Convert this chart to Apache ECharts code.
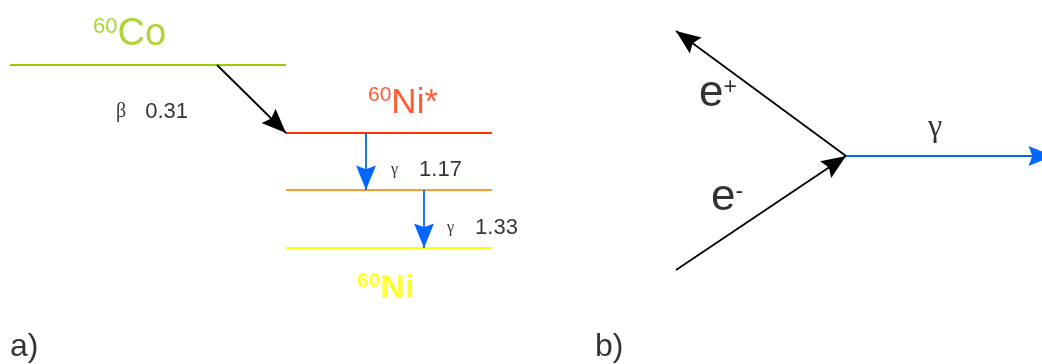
<!DOCTYPE html>
<html>
<head>
<meta charset="utf-8">
<script src="https://cdn.jsdelivr.net/npm/echarts@6/dist/echarts.min.js"></script>
<style>html,body{margin:0;padding:0;background:#fff;}#c{width:1042px;height:364px;}</style>
</head>
<body>
<div id="c"></div>
<script>
// ---- diagram data (diagram units on a 1042 x 364 plane) ----
const levelNames = ['60Co', '60Ni*', '60Ni* 1.33', '60Ni'];
const levelY = [65, 133, 190, 248];
const levelX0 = [10, 286, 286, 286];
const levelX1 = [286, 492, 492, 492];

const transitionSymbols = ['β', 'γ', 'γ'];
const transitionEnergies = [0.31, 1.17, 1.33];
const transitionFrom = [[217, 65], [366, 133], [424, 190]];
const transitionTo = [[286, 133], [366, 190], [424, 248]];

const annihilationParticles = ['e+', 'e-', 'γ'];
const annihilationFrom = [[846, 156], [676, 270], [846, 156]];
const annihilationTo = [[676, 31], [846, 156], [1053, 156]];

const panelLabels = ['a)', 'b)'];
const panelAnchors = [[10, 347], [595, 347]];

const levelLabelAnchors = [[93, 35], [368, 103], [357, 288]];
const transitionLabelAnchors = [[116, 112], [391, 170], [447, 228]];
const particleLabelAnchors = [[699, 96], [711, 200], [928, 128]];

// ---- styles ----
const levelColors = ['#99cc00', '#ff3300', '#ff9933', '#ffff00'];
const transitionColors = ['#000000', '#0066ff', '#0066ff'];
const particleColors = ['#000000', '#000000', '#0066ff'];
const SANS = 'Liberation Sans, Arial, sans-serif';
const SERIF = 'Liberation Serif, Times New Roman, serif';
// arrow head drawn in the back half of a square box so the tip sits on the end point
const ARROW = 'path://M-17,0L-16.99,0L-17,0.01Z M17,34L16.99,34L17,33.99Z M0,17L6.5,33L0,30.5L-6.5,33Z';

const chart = echarts.init(document.getElementById('c'));

const levelLines = levelY.map((y, i) => ({
  coords: [[levelX0[i], y], [levelX1[i], y]],
  lineStyle: { color: levelColors[i], width: 2, opacity: 1 }
}));
const transitionLines = transitionFrom.map((p, i) => ({
  coords: [p, transitionTo[i]],
  lineStyle: { color: transitionColors[i], width: 1.8, opacity: 1 }
}));
const particleLines = annihilationFrom.map((p, i) => ({
  coords: [p, annihilationTo[i]],
  lineStyle: { color: particleColors[i], width: i === 2 ? 2.2 : 1.8, opacity: 1 }
}));

function labelPoint(pos, formatter, rich) {
  return {
    value: pos,
    label: {
      show: true, position: 'right', distance: 0, align: 'left', verticalAlign: 'middle',
      color: '#000', textBorderWidth: 0, formatter: formatter, rich: rich || {}
    }
  };
}

const levelRich = [
  { s: { fontFamily: SANS, fontSize: 22, color: levelColors[0], lineHeight: 22, verticalAlign: 'top' },
    b: { fontFamily: SANS, fontSize: 38, color: levelColors[0], lineHeight: 38, verticalAlign: 'bottom' } },
  { s: { fontFamily: SANS, fontSize: 21, color: levelColors[1], lineHeight: 21, verticalAlign: 'top' },
    b: { fontFamily: SANS, fontSize: 35, color: levelColors[1], lineHeight: 36, verticalAlign: 'bottom' } },
  { s: { fontFamily: SANS, fontSize: 21, fontWeight: 'bold', color: levelColors[3], lineHeight: 21, verticalAlign: 'top' },
    b: { fontFamily: SANS, fontSize: 34, fontWeight: 'bold', color: levelColors[3], lineHeight: 35, verticalAlign: 'bottom' } }
];
const levelTextIdx = [0, 1, 3];
const levelTexts = levelTextIdx.map((li, k) => {
  const name = levelNames[li];
  return labelPoint(levelLabelAnchors[k], '{s|' + name.slice(0, 2) + '}{b|' + name.slice(2) + '}', levelRich[k]);
});

const transitionTexts = transitionSymbols.map((sym, i) => labelPoint(
  transitionLabelAnchors[i],
  '{g|' + sym + '}{n|' + transitionEnergies[i].toFixed(2) + '}',
  {
    g: { fontFamily: SERIF, fontSize: i === 0 ? 20 : 16, color: '#000', padding: [0, i === 0 ? 19 : 21, 0, 0] },
    n: { fontFamily: SANS, fontSize: 22, color: '#000' }
  }
));

const particleTexts = annihilationParticles.map((p, i) => {
  if (i === 2) {
    return labelPoint(particleLabelAnchors[i], '{g|' + p + '}', { g: { fontFamily: SERIF, fontSize: 32, color: '#000' } });
  }
  return labelPoint(particleLabelAnchors[i], '{b|' + p[0] + '}{s|' + (p[1] === '-' ? '-' : '+') + '}', {
    b: { fontFamily: SANS, fontSize: 44, color: '#000', lineHeight: 40, verticalAlign: 'bottom' },
    s: { fontFamily: SANS, fontSize: 23, color: '#000', lineHeight: 22, verticalAlign: 'top' }
  });
});

const panelTexts = panelLabels.map((t, i) => labelPoint(panelAnchors[i], '{p|' + t + '}', {
  p: { fontFamily: SANS, fontSize: 32, color: '#000' }
}));

chart.setOption({
  animation: false,
  backgroundColor: '#ffffff',
  grid: { left: 0, right: 0, top: 0, bottom: 0 },
  xAxis: { type: 'value', min: 0, max: 1042, show: false },
  yAxis: { type: 'value', min: 0, max: 364, inverse: true, show: false },
  series: [
    { type: 'lines', coordinateSystem: 'cartesian2d', symbol: ['none', 'none'], data: levelLines, silent: true, z: 2 },
    { type: 'lines', coordinateSystem: 'cartesian2d', symbol: ['none', ARROW], symbolSize: 52, data: transitionLines, silent: true, z: 3 },
    { type: 'lines', coordinateSystem: 'cartesian2d', symbol: ['none', ARROW], symbolSize: 52, data: particleLines, silent: true, z: 3 },
    {
      type: 'scatter', symbolSize: 0, silent: true, z: 5,
      data: levelTexts.concat(transitionTexts, particleTexts, panelTexts)
    }
  ]
});
</script>
</body>
</html>
